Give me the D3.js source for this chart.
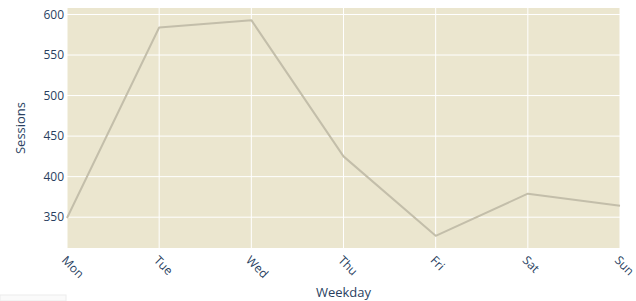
<!DOCTYPE html>
<html>
<head>
<meta charset="utf-8">
<script src="https://cdn.jsdelivr.net/npm/d3@7"></script>
<style>
  body { margin: 0; background: #fff; }
  svg { display: block; font-family: "Open Sans", "DejaVu Sans", sans-serif; }
</style>
</head>
<body>
<div id="chart"></div>
<script>
// weekly sessions
var weekdays = ["Mon", "Tue", "Wed", "Thu", "Fri", "Sat", "Sun"];
var sessions = [349, 584, 593, 425, 327, 379, 364];
var yTicks = [350, 400, 450, 500, 550, 600];

var width = 636, height = 301;
var margin = {top: 8, right: 16, bottom: 53, left: 67};
var innerW = width - margin.left - margin.right;
var innerH = height - margin.top - margin.bottom;

var svg = d3.select("#chart").append("svg")
    .attr("width", width)
    .attr("height", height);

// faint box in the lower left corner of the original
svg.append("rect")
    .attr("x", 0).attr("y", 295)
    .attr("width", 66).attr("height", 6)
    .attr("fill", "#fafafa")
    .attr("stroke", "#ececec");

var g = svg.append("g")
    .attr("transform", "translate(" + margin.left + "," + margin.top + ")");

var x = d3.scalePoint()
    .domain(weekdays)
    .range([0, innerW]);

var y = d3.scaleLinear()
    .domain([312, 608])
    .range([innerH, 0]);

g.append("rect")
    .attr("width", innerW)
    .attr("height", innerH)
    .attr("fill", "#ebe6cf");

// grid
g.selectAll(".ygrid").data(yTicks).enter().append("line")
    .attr("class", "ygrid")
    .attr("x1", 0).attr("x2", innerW)
    .attr("y1", function(d){ return y(d); })
    .attr("y2", function(d){ return y(d); })
    .attr("stroke", "#fff")
    .attr("stroke-width", 1);

g.selectAll(".xgrid").data(weekdays).enter().append("line")
    .attr("class", "xgrid")
    .attr("x1", function(d){ return x(d); })
    .attr("x2", function(d){ return x(d); })
    .attr("y1", 0).attr("y2", innerH)
    .attr("stroke", "#fff")
    .attr("stroke-width", 1);

// line
var line = d3.line()
    .x(function(d, i){ return x(weekdays[i]); })
    .y(function(d){ return y(d); });

g.append("path")
    .datum(sessions)
    .attr("d", line)
    .attr("fill", "none")
    .attr("stroke", "#c3beaa")
    .attr("stroke-width", 2)
    .attr("stroke-linejoin", "round");

// y tick labels
g.selectAll(".ylab").data(yTicks).enter().append("text")
    .attr("class", "ylab")
    .attr("x", -3)
    .attr("y", function(d){ return y(d); })
    .attr("dy", "0.35em")
    .attr("text-anchor", "end")
    .attr("font-size", 12)
    .attr("fill", "#2a3f5f")
    .text(function(d){ return d; });

// x tick labels, turned 45 degrees
g.selectAll(".xlab").data(weekdays).enter().append("text")
    .attr("class", "xlab")
    .attr("transform", function(d){
        return "translate(" + x(d) + "," + (innerH + 7) + ") rotate(45)";
    })
    .attr("dy", "0.71em")
    .attr("text-anchor", "start")
    .attr("font-size", 12)
    .attr("fill", "#2a3f5f")
    .text(function(d){ return d; });

// axis titles
svg.append("text")
    .attr("x", margin.left + innerW / 2)
    .attr("y", 297)
    .attr("text-anchor", "middle")
    .attr("font-size", 13)
    .attr("fill", "#2a3f5f")
    .text("Weekday");

svg.append("text")
    .attr("transform", "translate(25," + (margin.top + innerH / 2) + ") rotate(-90)")
    .attr("text-anchor", "middle")
    .attr("font-size", 13)
    .attr("fill", "#2a3f5f")
    .text("Sessions");
</script>
</body>
</html>
